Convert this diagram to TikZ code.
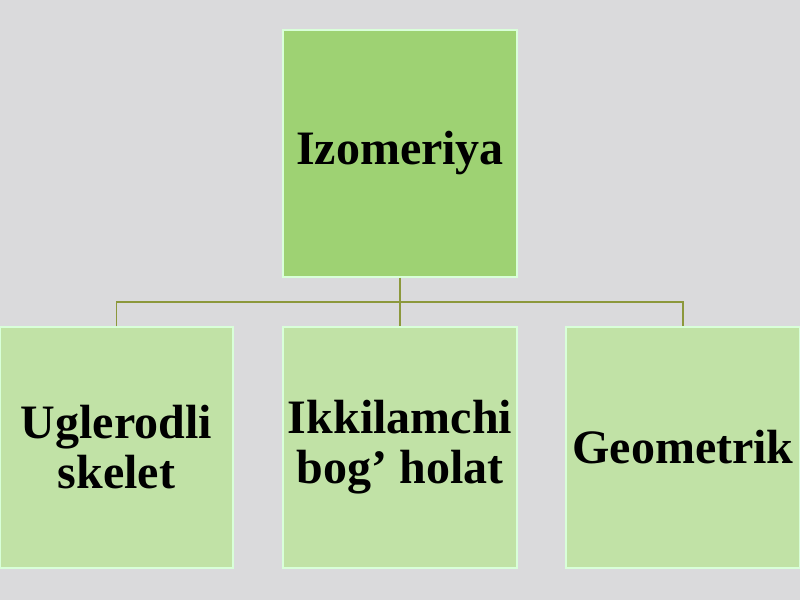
\documentclass[tikz,border=0pt]{standalone}
\usepackage{fontspec}
\setmainfont{Liberation Serif}
\usetikzlibrary{positioning}

\definecolor{bggray}{RGB}{218,218,220}
\definecolor{topgreen}{RGB}{158,210,115}
\definecolor{subgreen}{RGB}{193,226,166}
\definecolor{linkolive}{RGB}{140,152,60}

\tikzset{
    box/.style={rectangle, draw=white!85!green, line width=0.8pt, inner sep=0pt,
        align=center, text=black,
        font=\fontsize{36}{37.5}\selectfont\bfseries},
    link/.style={draw=linkolive, line width=0.8pt}
}

\begin{document}
\begin{tikzpicture}[x=0.75pt, y=-0.75pt]
    % Background
    \fill[bggray] (0,0) rectangle (800,600);
    \useasboundingbox (0,0) rectangle (800,600);

    % Top node
    \node[box, fill=topgreen, minimum width=234*0.75pt, minimum height=247*0.75pt]
        (izo) at (400,153.5) {Izomeriya};

    % Sub nodes
    \node[box, fill=subgreen, minimum width=233*0.75pt, minimum height=241*0.75pt]
        (ugl) at (116.5,447.5) {Uglerodli\\skelet};
    \node[box, fill=subgreen, minimum width=234*0.75pt, minimum height=241*0.75pt]
        (ikk) at (400,447.5) {Ikkilamchi\\bog’ holat};
    \node[box, fill=subgreen, minimum width=234*0.75pt, minimum height=241*0.75pt]
        (geo) at (683,447.5) {Geometrik};

    % Connectors
    \coordinate (bus) at (400,302);
    \draw[link] (izo.south) -- (ikk.north);
    \draw[link] (ugl.north) -- (ugl.north |- bus) -| (geo.north);

\end{tikzpicture}
\end{document}
